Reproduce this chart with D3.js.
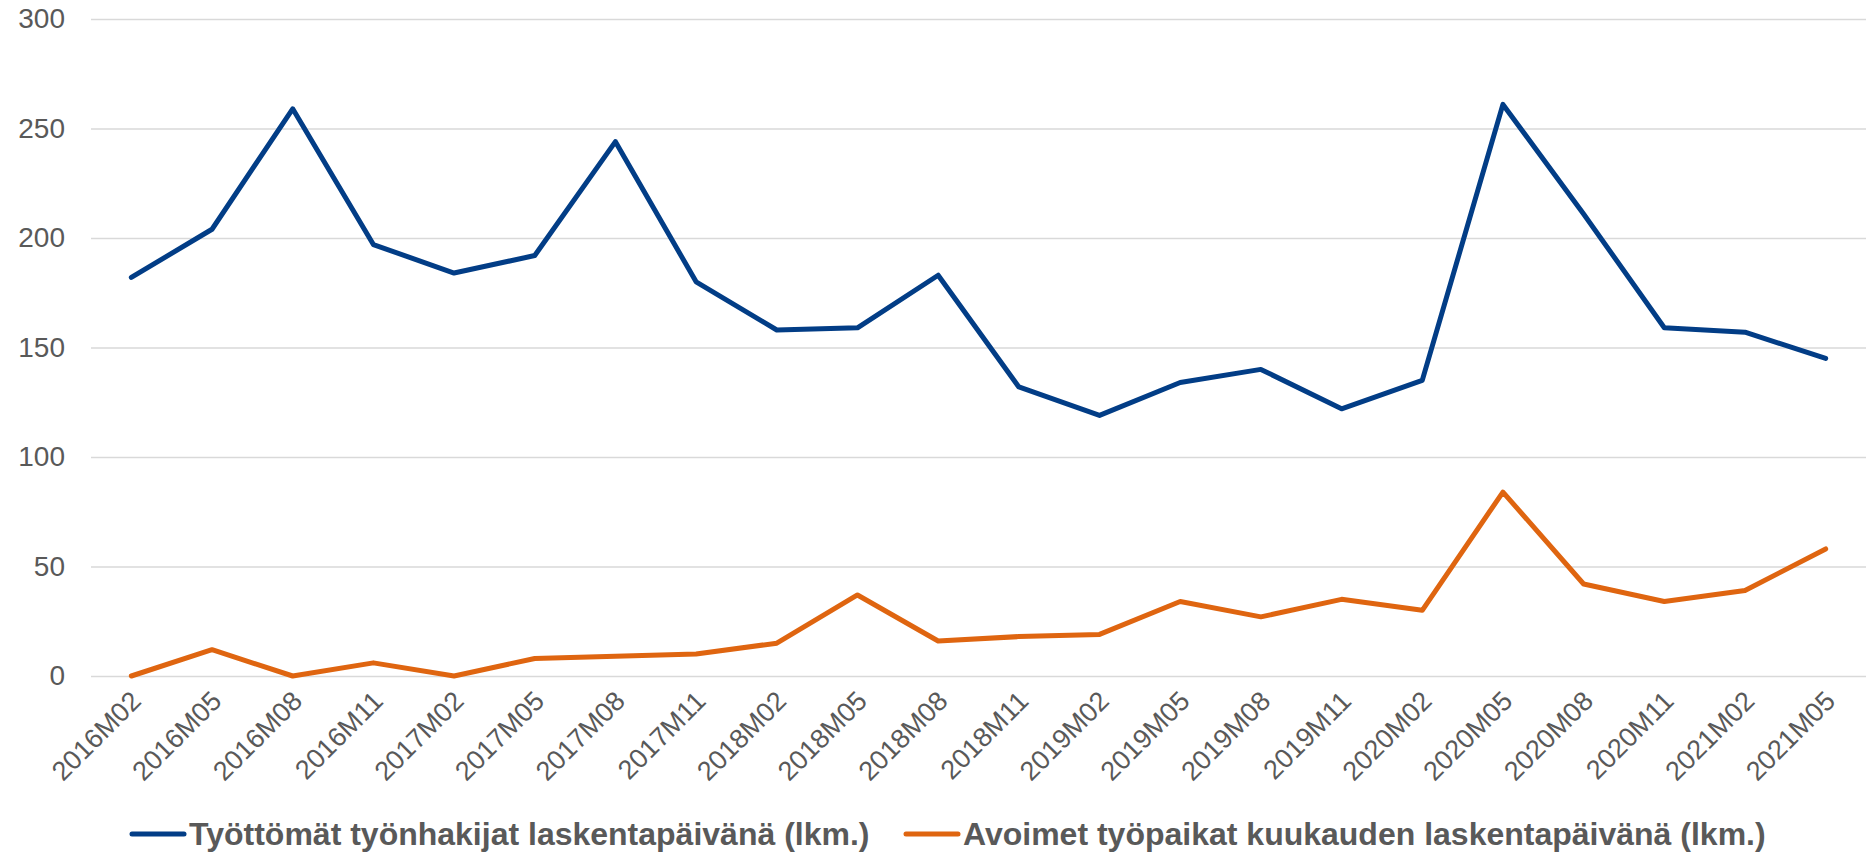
<!DOCTYPE html>
<html>
<head>
<meta charset="utf-8">
<script src="https://cdn.jsdelivr.net/npm/d3@7"></script>
<style>
  body { margin: 0; background: #fff; }
  text { font-family: "Liberation Sans", Arial, sans-serif; }
</style>
</head>
<body>
<div id="chart"></div>
<script>
const periods = [
  "2016M02", "2016M05", "2016M08", "2016M11",
  "2017M02", "2017M05", "2017M08", "2017M11",
  "2018M02", "2018M05", "2018M08", "2018M11",
  "2019M02", "2019M05", "2019M08", "2019M11",
  "2020M02", "2020M05", "2020M08", "2020M11",
  "2021M02", "2021M05"
];
const unemployed = [182, 204, 259, 197, 184, 192, 244, 180, 158, 159, 183, 132,
  119, 134, 140, 122, 135, 261, 211, 159, 157, 145];
const vacancies = [0, 12, 0, 6, 0, 8, 9, 10, 15, 37, 16, 18,
  19, 34, 27, 35, 30, 84, 42, 34, 39, 58];
const yTicks = [0, 50, 100, 150, 200, 250, 300];
const seriesNames = [
  "Työttömät työnhakijat laskentapäivänä (lkm.)",
  "Avoimet työpaikat kuukauden laskentapäivänä (lkm.)"
];

const width = 1873, height = 854;
const margin = { top: 19, right: 7, bottom: 178, left: 91 };
const colors = ["#023d86", "#df6510"];

const svg = d3.select("#chart").append("svg")
  .attr("width", width)
  .attr("height", height);

const x = d3.scalePoint()
  .domain(periods)
  .range([margin.left, width - margin.right])
  .padding(0.5);

const y = d3.scaleLinear()
  .domain([0, 300])
  .range([height - margin.bottom, margin.top]);

// gridlines + y labels
const yAxis = svg.append("g")
  .attr("transform", `translate(${margin.left},0)`)
  .call(d3.axisLeft(y).tickValues(yTicks).tickSize(-(width - margin.left - margin.right)).tickPadding(26));
yAxis.select(".domain").remove();
yAxis.selectAll(".tick line").attr("stroke", "#d9d9d9").attr("stroke-width", 1.5);
yAxis.selectAll(".tick text")
  .attr("fill", "#595959")
  .attr("font-size", "28px");

// x labels
const xAxis = svg.append("g")
  .attr("transform", `translate(0,${height - margin.bottom})`)
  .call(d3.axisBottom(x).tickSize(0).tickPadding(0));
xAxis.select(".domain").remove();
xAxis.selectAll(".tick text")
  .attr("fill", "#595959")
  .attr("font-size", "27px")
  .attr("text-anchor", "end")
  .attr("dy", "0.35em")
  .attr("transform", "translate(4,20) rotate(-45)");

const line = d3.line()
  .x((d, i) => x(periods[i]))
  .y(d => y(d));

[unemployed, vacancies].forEach((vals, k) => {
  svg.append("path")
    .datum(vals)
    .attr("fill", "none")
    .attr("stroke", colors[k])
    .attr("stroke-width", 5)
    .attr("stroke-linejoin", "round")
    .attr("stroke-linecap", "round")
    .attr("d", line);
});

// legend
const legend = svg.append("g").attr("transform", "translate(0,834)");
const legendX = [132, 906];
seriesNames.forEach((name, k) => {
  const g = legend.append("g").attr("transform", `translate(${legendX[k]},0)`);
  g.append("line")
    .attr("x1", 0).attr("x2", 52)
    .attr("stroke", colors[k])
    .attr("stroke-width", 5)
    .attr("stroke-linecap", "round");
  g.append("text")
    .attr("x", 57)
    .attr("dy", "0.35em")
    .attr("fill", "#595959")
    .attr("font-size", "32px")
    .attr("font-weight", "bold")
    .text(name);
});
</script>
</body>
</html>
